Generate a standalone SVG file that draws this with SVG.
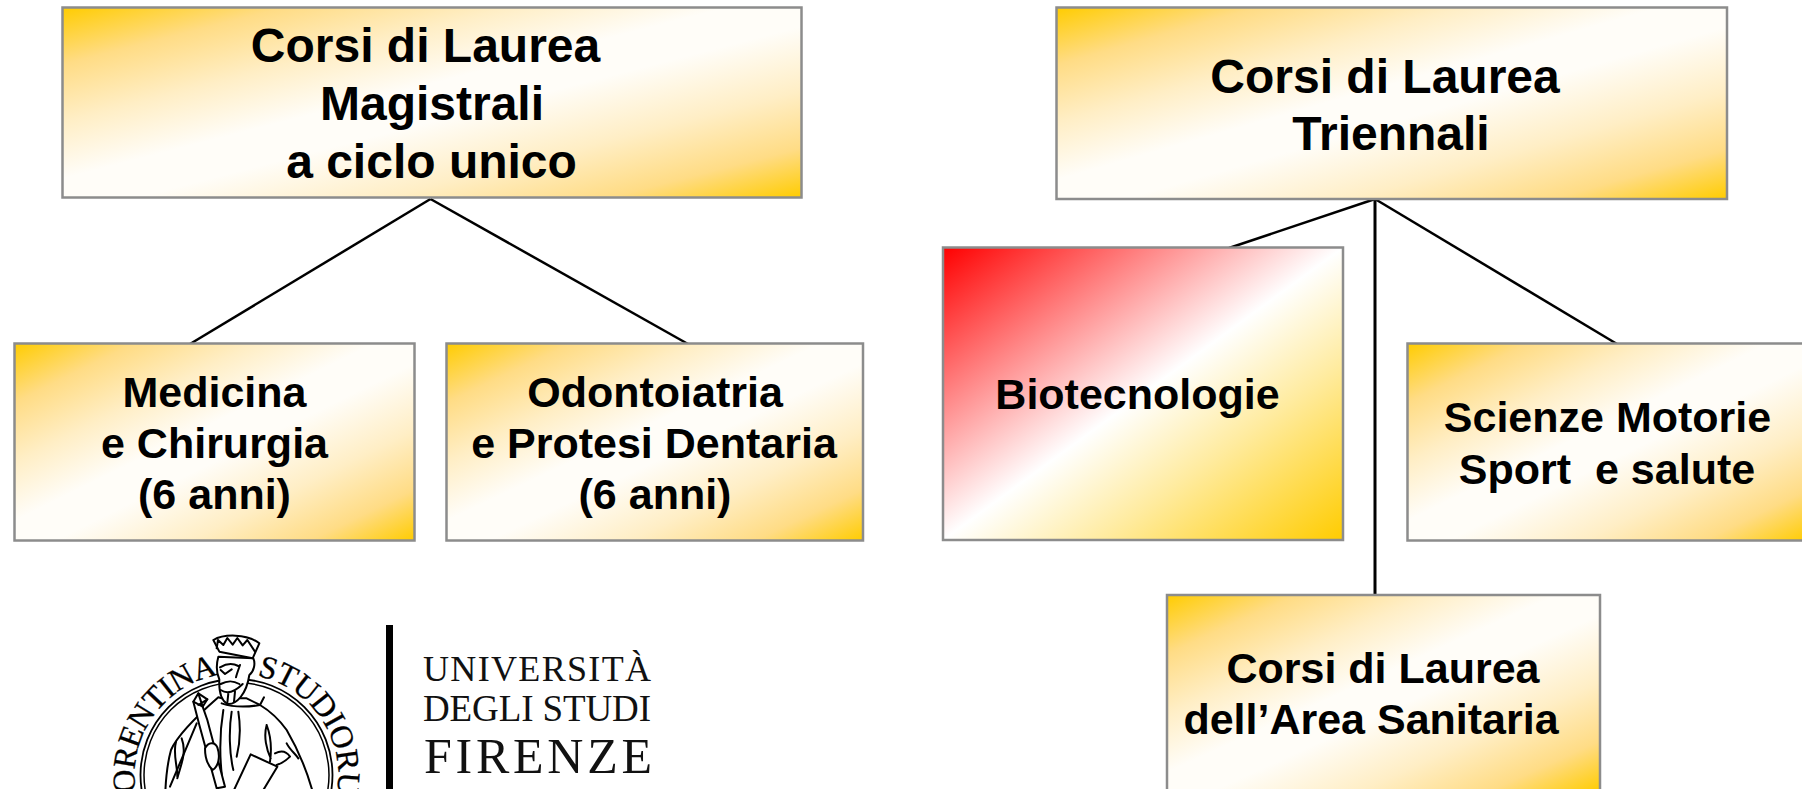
<svg xmlns="http://www.w3.org/2000/svg" width="1802" height="789" viewBox="0 0 1802 789">
<style>
.box{stroke:#8c8c8c;stroke-width:2.5;fill:url(#gold)}
.t{font-family:"Liberation Sans",Arial,sans-serif;font-weight:700;fill:#000;text-anchor:middle;white-space:pre}
.t48{font-size:48px}
.t42{font-size:43px}
.conn{stroke:#000;stroke-width:2.5;fill:none}
.uni{font-family:"Liberation Serif","Times New Roman",serif;fill:#111}
.seal{font-family:"Liberation Serif","Times New Roman",serif;fill:#000;stroke:#000;stroke-width:.3;font-size:32px}
.ink{fill:none;stroke:#000;stroke-width:6;stroke-linejoin:round;stroke-linecap:round}
.inkf{fill:#fff;stroke:#000;stroke-width:6;stroke-linejoin:round;stroke-linecap:round}
</style>
<defs>
<linearGradient id="gold" x1="0" y1="0" x2="1" y2="1">
<stop offset="0" stop-color="#ffcc00"/><stop offset=".15" stop-color="#ffdc85"/><stop offset=".3" stop-color="#ffeec5"/><stop offset=".45" stop-color="#fffdf8"/><stop offset=".55" stop-color="#fffdf8"/><stop offset=".72" stop-color="#ffeec5"/><stop offset=".87" stop-color="#ffdc85"/><stop offset="1" stop-color="#ffcc00"/>
</linearGradient>
<linearGradient id="redgold" x1="0" y1="0" x2="1" y2="1">
<stop offset="0" stop-color="#ff0000"/><stop offset=".25" stop-color="#ff8080"/><stop offset=".5" stop-color="#fff"/><stop offset=".7" stop-color="#ffeb9e"/><stop offset="1" stop-color="#ffcc00"/>
</linearGradient>
<path id="arcL" d="M136 792A102 102 0 0 1 214 676"/>
<path id="arcR" d="M257 676A102 102 0 0 1 337 792"/>
</defs>
<rect width="1802" height="789" fill="#fff"/>
<g id="connectors">
<line class="conn" x1="430.500" y1="199" x2="190" y2="344"/>
<line class="conn" x1="430.500" y1="199" x2="688" y2="344"/>
<line class="conn" x1="1375" y1="199" x2="1229" y2="248"/>
<line class="conn" x1="1375" y1="199" x2="1617" y2="344"/>
<line class="conn" style="stroke-width:3" x1="1375" y1="199" x2="1375" y2="596"/>
</g>
<g id="node-magistrali">
<rect class="box" x="62.500" y="7.500" width="739" height="190"/>
<text class="t t48" x="425.500" y="62">Corsi di Laurea</text>
<text class="t t48" x="432" y="120">Magistrali</text>
<text class="t t48" x="431.500" y="177.500">a ciclo unico</text>
</g>
<g id="node-medicina">
<rect class="box" x="14.500" y="343.500" width="400" height="197"/>
<text class="t t42" x="214.500" y="406.500">Medicina</text>
<text class="t t42" x="214.500" y="457.500">e Chirurgia</text>
<text class="t t42" x="214.500" y="508.500">(6 anni)</text>
</g>
<g id="node-odontoiatria">
<rect class="box" x="446.500" y="343.500" width="416.500" height="197"/>
<text class="t t42" x="655" y="406.500">Odontoiatria</text>
<text class="t t42" x="654" y="457.500">e Protesi Dentaria</text>
<text class="t t42" x="655" y="508.500">(6 anni)</text>
</g>
<g id="node-triennali">
<rect class="box" x="1056.500" y="7.500" width="670.500" height="191.500"/>
<text class="t t48" x="1385" y="93">Corsi di Laurea</text>
<text class="t t48" x="1391" y="150">Triennali</text>
</g>
<g id="node-biotecnologie">
<rect class="box" style="fill:url(#redgold)" x="943" y="247.500" width="400" height="292.500"/>
<text class="t t42" x="1137.500" y="409">Biotecnologie</text>
</g>
<g id="node-scienze">
<rect class="box" x="1407.500" y="343.500" width="401" height="197"/>
<text class="t t42" x="1607.500" y="431.500">Scienze Motorie</text>
<text class="t t42" x="1607" y="483.500" xml:space="preserve">Sport  e salute</text>
</g>
<g id="node-sanitaria">
<rect class="box" x="1167" y="595" width="433" height="197"/>
<text class="t t42" x="1383" y="683">Corsi di Laurea</text>
<text class="t t42" x="1371" y="734">dell’Area Sanitaria</text>
</g>
<g id="logo">
<rect x="386" y="625" width="7" height="164" fill="#000"/>
<text class="uni" x="423" y="681" font-size="36" textLength="228" lengthAdjust="spacing">UNIVERSITÀ</text>
<text class="uni" x="423" y="721" font-size="37" textLength="228" lengthAdjust="spacing">DEGLI STUDI</text>
<text class="uni" x="424" y="773" font-size="50" textLength="228" lengthAdjust="spacing">FIRENZE</text>
<text class="seal"><textPath href="#arcL" textLength="158" lengthAdjust="spacing">ORENTINA</textPath></text>
<text class="seal"><textPath href="#arcR" textLength="158" lengthAdjust="spacing">STUDIORU</textPath></text>
<circle cx="236.500" cy="775" r="96" fill="none" stroke="#000" stroke-width="1.800"/>
<circle cx="236.500" cy="775" r="92.500" fill="none" stroke="#000" stroke-width="1.500"/>
<g transform="translate(90 610) scale(.33333)">
<path class="inkf" d="M385 262C330 310 265 370 243 420C232 460 228 500 226 545L668 545C650 480 625 420 590 360C565 325 535 300 510 285L470 265L395 265Z"/>
<path class="ink" d="M258 395C248 430 262 465 262 500M275 385C292 430 270 470 262 505M400 300C390 360 388 430 396 500M425 305C416 360 418 430 430 480M445 305C452 350 450 400 440 440M530 345C520 380 530 420 542 445M530 345C545 385 545 420 540 455M590 400C600 420 615 430 625 445"/>
<path class="inkf" d="M385 140C378 165 380 190 388 208C386 250 395 272 412 282C440 285 470 250 478 195C492 185 497 160 490 145Z"/>
<path class="ink" d="M390 172C410 160 430 160 445 168M450 165C445 180 440 192 438 202M392 180L405 192L425 178M392 222C415 210 430 212 448 222M392 240C410 252 430 250 458 222M415 250L412 278M435 245L432 275M395 280C430 292 470 292 510 285L522 262"/>
<path class="inkf" d="M370 90C400 72 470 70 508 100L488 145L388 125Z"/>
<path class="ink" d="M380 115L384 90L400 105L412 84L428 104L442 84L458 106L472 90L495 125"/>
<path class="inkf" d="M310 275L325 250L352 268L338 290L352 330L405 530L380 535L328 345Z"/>
<path class="ink" d="M325 250L338 290M310 275L338 290M352 268L325 285"/>
<path class="inkf" d="M345 415C355 395 375 395 382 412C392 440 385 470 368 480C352 465 345 440 345 415Z"/>
<path class="inkf" d="M482 433L562 470L520 540L432 540Z"/>
<path class="ink" d="M555 430C575 420 590 425 600 440C590 450 575 460 560 465M240 530L320 340"/>
</g>
</g>
</svg>
